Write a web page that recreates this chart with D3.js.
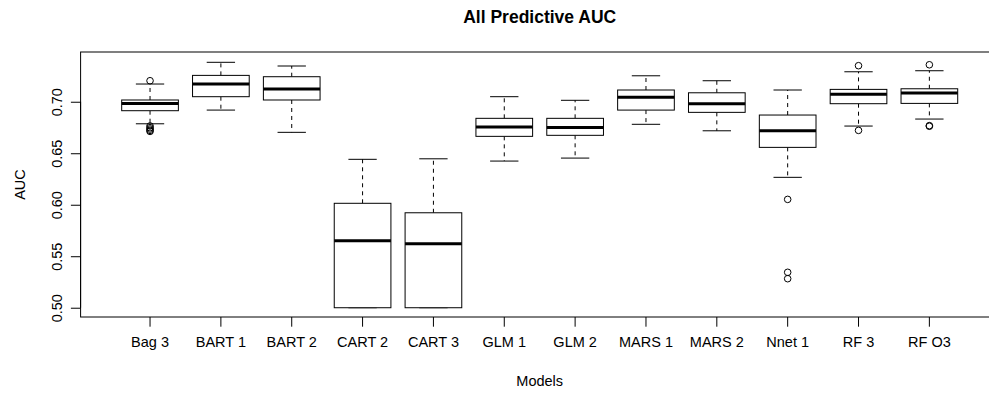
<!DOCTYPE html>
<html>
<head>
<meta charset="utf-8">
<script src="https://cdn.jsdelivr.net/npm/d3@7"></script>
<style>
  html, body { margin: 0; padding: 0; background: #fff; }
  svg { display: block; font-family: "Liberation Sans", Arial, Helvetica, sans-serif; }
</style>
</head>
<body>
<svg id="chart" width="989" height="393"></svg>
<script>
// ---- Data ----
const models = ["Bag 3", "BART 1", "BART 2", "CART 2", "CART 3", "GLM 1", "GLM 2", "MARS 1", "MARS 2", "Nnet 1", "RF 3", "RF O3"];
const lowerWhisker = [0.6786, 0.6919, 0.6703, 0.5000, 0.5000, 0.6424, 0.6453, 0.6781, 0.6718, 0.6266, 0.6764, 0.6832];
const q1           = [0.6913, 0.7049, 0.7017, 0.5000, 0.5000, 0.6664, 0.6674, 0.6919, 0.6897, 0.6557, 0.6981, 0.6984];
const medians      = [0.6984, 0.7172, 0.7123, 0.5650, 0.5621, 0.6754, 0.6751, 0.7043, 0.6981, 0.6718, 0.7072, 0.7084];
const q3           = [0.7017, 0.7256, 0.7243, 0.6014, 0.5922, 0.6839, 0.6839, 0.7114, 0.7087, 0.6871, 0.7120, 0.7126];
const upperWhisker = [0.7172, 0.7383, 0.7347, 0.6441, 0.6446, 0.7049, 0.7014, 0.7252, 0.7204, 0.7114, 0.7291, 0.7301];
const outliers     = [
  [0.7204, 0.6765, 0.6748, 0.6735, 0.6722, 0.6712],
  [], [], [], [], [], [], [], [],
  [0.6052, 0.5344, 0.5282],
  [0.7350, 0.6722],
  [0.7359, 0.6768, 0.6762]
];
const yTicks = [0.50, 0.55, 0.60, 0.65, 0.70];
const titleText = "All Predictive AUC";
const xTitle = "Models";
const yTitle = "AUC";

// ---- Layout ----
const W = 989, H = 393;
const plotLeft = 80.6, plotRight = 998.8, plotTop = 52, plotBottom = 317;
const step = (plotRight - plotLeft) / 12.96;   // R: xlim 0.5..12.5 with 4% extension
const bandLeft = plotLeft + 0.48 * step;
const bandRight = bandLeft + 12 * step;

const svg = d3.select("#chart");

const x = d3.scaleBand().domain(models).range([bandLeft, bandRight]).paddingInner(0).paddingOuter(0);
const y = d3.scaleLinear().domain([0.4910, 0.7483]).range([plotBottom, plotTop]);

const boxW = x.bandwidth() * 0.8;
const stapleW = boxW * 0.5;
const fs = 14.5;

const data = models.map((m, i) => ({
  m, lo: lowerWhisker[i], q1: q1[i], med: medians[i], q3: q3[i], hi: upperWhisker[i], out: outliers[i]
}));

const g = svg.append("g");

const groups = g.selectAll("g.box").data(data).enter().append("g")
  .attr("class", "box")
  .attr("transform", d => `translate(${x(d.m) + x.bandwidth() / 2},0)`);

// whiskers (dashed)
groups.append("line")
  .attr("x1", 0).attr("x2", 0)
  .attr("y1", d => y(d.q3)).attr("y2", d => y(d.hi))
  .attr("stroke", "#000").attr("stroke-width", 1).attr("stroke-dasharray", "4,4");
groups.append("line")
  .attr("x1", 0).attr("x2", 0)
  .attr("y1", d => y(d.q1)).attr("y2", d => y(d.lo))
  .attr("stroke", "#000").attr("stroke-width", 1).attr("stroke-dasharray", "4,4");
// staples
groups.append("line")
  .attr("x1", -stapleW / 2).attr("x2", stapleW / 2)
  .attr("y1", d => y(d.hi)).attr("y2", d => y(d.hi))
  .attr("stroke", "#000").attr("stroke-width", 1);
groups.append("line")
  .attr("x1", -stapleW / 2).attr("x2", stapleW / 2)
  .attr("y1", d => y(d.lo)).attr("y2", d => y(d.lo))
  .attr("stroke", "#000").attr("stroke-width", 1);
// box
groups.append("rect")
  .attr("x", -boxW / 2).attr("width", boxW)
  .attr("y", d => y(d.q3)).attr("height", d => y(d.q1) - y(d.q3))
  .attr("fill", "#fff").attr("stroke", "#000").attr("stroke-width", 1);
// median
groups.append("line")
  .attr("x1", -boxW / 2).attr("x2", boxW / 2)
  .attr("y1", d => y(d.med)).attr("y2", d => y(d.med))
  .attr("stroke", "#000").attr("stroke-width", 3);
// outliers
groups.selectAll("circle").data(d => d.out).enter().append("circle")
  .attr("cx", 0).attr("cy", v => y(v)).attr("r", 3.3)
  .attr("fill", "none").attr("stroke", "#000").attr("stroke-width", 1);

// frame
svg.append("rect")
  .attr("x", plotLeft).attr("y", plotTop)
  .attr("width", plotRight - plotLeft).attr("height", plotBottom - plotTop)
  .attr("fill", "none").attr("stroke", "#000").attr("stroke-width", 1);

// x axis
const xAxis = svg.append("g")
  .attr("transform", `translate(0,${plotBottom})`)
  .call(d3.axisBottom(x).tickSize(9.7).tickPadding(10));
xAxis.select(".domain").remove();
xAxis.selectAll("text").attr("font-size", fs).attr("font-family", "Liberation Sans, Arial, sans-serif").attr("fill", "#000").attr("dy", "0.71em");
xAxis.selectAll("line").attr("stroke", "#000");

// y axis
const yAxis = svg.append("g")
  .attr("transform", `translate(${plotLeft},0)`)
  .call(d3.axisLeft(y).tickValues(yTicks).tickFormat(d3.format(".2f")).tickSize(9.7));
yAxis.select(".domain").attr("d", `M0,${y(0.50)}V${y(0.70)}`).attr("stroke", "#000");
yAxis.selectAll("line").attr("stroke", "#000");
yAxis.selectAll("text")
  .attr("transform", "rotate(-90)")
  .attr("x", 0).attr("y", -(plotLeft - 62)).attr("dy", 0)
  .attr("text-anchor", "middle")
  .attr("font-size", fs).attr("font-family", "Liberation Sans, Arial, sans-serif").attr("fill", "#000");

// title
svg.append("text")
  .attr("x", (plotLeft + plotRight) / 2).attr("y", 23)
  .attr("text-anchor", "middle").attr("font-weight", "bold").attr("font-size", 17.5)
  .text(titleText);

// axis titles
svg.append("text")
  .attr("x", (plotLeft + plotRight) / 2).attr("y", 386)
  .attr("text-anchor", "middle").attr("font-size", fs)
  .text(xTitle);
svg.append("text")
  .attr("transform", `translate(25,${(plotTop + plotBottom) / 2}) rotate(-90)`)
  .attr("text-anchor", "middle").attr("font-size", fs)
  .text(yTitle);
</script>
</body>
</html>
